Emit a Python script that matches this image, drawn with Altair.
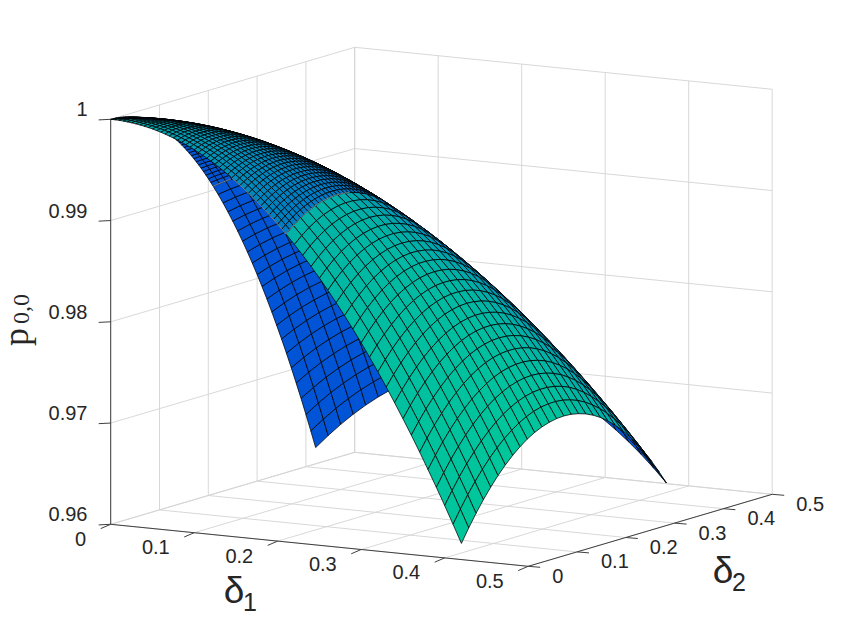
import altair as alt
import numpy as np
import pandas as pd

# ---- values ----
# p along the surface edge (delta2 = 0): fine rows 0 .. 0.21, step .005
edge_fine = [1.0, .999995, .99998, .99995, .99991, .99986, .9998, .99973, .99965, .99956,
             .99946, .99934, .99922, .99908, .99893, .99878, .99861, .99843, .99824, .99804,
             .99782, .9976, .99737, .99712, .99687, .9966, .99632, .99603, .99573, .99542,
             .9951, .99477, .99443, .99407, .99371, .99333, .99295, .99255, .99214, .99172,
             .99129, .99085, .9904]
# coarse rows 0.21 .. 0.42, step .01
edge_coarse = [.9904, .98946, .98848, .98746, .98639, .98528, .98413, .98293, .98169, .98041,
               .97908, .97771, .97629, .97483, .97333, .97179, .9702, .96856, .96689, .96517,
               .9634, .9616]
# p along the far arc (delta1 = 0.42), fraction of the row from 0 to 1, step .02
arc = [.9616, .96235, .96307, .96377, .96443, .96506, .96565, .96622, .96676, .96727,
       .96774, .96819, .9686, .96899, .96934, .96966, .96996, .97022, .97045, .97065,
       .97082, .97095, .97106, .97114, .97118, .9712, .97118, .97114, .97106, .97095,
       .97082, .97065, .97045, .97022, .96996, .96966, .96934, .96899, .9686, .96819,
       .96774, .96727, .96676, .96622, .96565, .96506, .96443, .96377, .96307, .96235, .9616]
z_ticks = [0.96, 0.97, 0.98, 0.99, 1.0]
z_labels = ["0.96", "0.97", "0.98", "0.99", "1"]
d_ticks = [0, 0.1, 0.2, 0.3, 0.4, 0.5]
d_labels = ["0", "0.1", "0.2", "0.3", "0.4", "0.5"]

# ---- the view: box corners measured in the picture ----
O = (110.7, 524.3)
V1 = (835.0, 84.0)
V2 = (488.0, -144.0)
VZ = 10125.0
TICK_FONT = 20
TEXT = "#262626"
GRID = "#d4d4d4"
AXIS = "#404040"
COARSE_COL = 0.015
FINE_COL = 0.0075
arc_t = [i / (len(arc) - 1) for i in range(len(arc))]


def project(d1, d2, p):
    return (O[0] + V1[0] * d1 + V2[0] * d2,
            O[1] + V1[1] * d1 + V2[1] * d2 - (p - 0.96) * VZ)


def depth(d1, d2, p):
    return 19.76 * d1 - 33.8 * d2 + 100.75 * p


def hexcol(v):
    v = max(0.0, min(1.0, v))
    return "#00%02x%02x" % (round(255 * v), round(255 * (1 - v / 2)))


def pval(edge_p, t):
    return 1 - (1 - edge_p) * (1 - float(np.interp(t, arc_t, arc))) / (1 - arc[0])


def patch(rows, r_step, r0, col_step, colour, swap):
    out = []
    for i in range(len(rows) - 1):
        r_lo = r0 + i * r_step
        r_hi = r0 + (i + 1) * r_step
        k = 0
        while k * col_step < r_hi:
            corners = []
            for a, r in ((i, r_lo), (i + 1, r_hi)):
                for c in ((k, k + 1) if a == i else (k + 1, k)):
                    s = min(c * col_step, r)
                    t = s / r if r > 0 else 0.0
                    p = pval(rows[a], t)
                    corners.append((s, r, p) if swap else (r, s, p))
            k += 1
            cd1 = sum(c[0] for c in corners) / 4
            cd2 = sum(c[1] for c in corners) / 4
            cp = sum(c[2] for c in corners) / 4
            rc = (r_lo + r_hi) / 2
            tc = min(1.0, (k - .5) * col_step / rc)
            ring = [list(project(*c)) for c in corners]
            ring = [[x - 8, y - 8] for x, y in ring]
            ring.append(ring[0])
            out.append((depth(cd1, cd2, cp), {
                "type": "Feature",
                "properties": {"c": colour(rc, tc)},
                "geometry": {"type": "Polygon", "coordinates": [ring]},
            }))
    return out


blue = lambda r, t: hexcol(0.33)
upper = lambda r, t: hexcol(0.70 - 1.0 * r - 0.05 * t)
lower = lambda r, t: hexcol(0.70 + 0.08 * (r - 0.21) / 0.21 - 0.36 * t ** 4)

cells = []
cells += patch(edge_fine, .005, 0.0, FINE_COL, blue, True)
cells += patch(edge_coarse, .01, 0.21, COARSE_COL, blue, True)
cells += patch(edge_fine, .005, 0.0, FINE_COL, upper, False)
cells += patch(edge_coarse, .01, 0.21, COARSE_COL, lower, False)
cells.sort(key=lambda c: c[0])
features = [c[1] for c in cells]

# ---- box, grid, ticks ----
seg = []


def add(kind, a, b):
    x, y = project(*a)
    x2, y2 = project(*b)
    seg.append({"kind": kind, "x": x, "y": y, "x2": x2, "y2": y2})


for z in z_ticks:
    add("grid", (0, 0, z), (0, .5, z))
    add("grid", (0, .5, z), (.5, .5, z))
    x, y = project(0, 0, z)
    seg.append({"kind": "axis", "x": x - 12, "y": y + .6, "x2": x, "y2": y})
for d in d_ticks:
    add("grid", (d, 0, .96), (d, .5, .96))
    add("grid", (0, d, .96), (.5, d, .96))
    add("grid", (0, d, .96), (0, d, 1.0))
    add("grid", (d, .5, .96), (d, .5, 1.0))
    x, y = project(d, 0, .96)
    seg.append({"kind": "axis", "x": x - 10, "y": y + 4.3, "x2": x, "y2": y})
    x, y = project(.5, d, .96)
    seg.append({"kind": "axis", "x": x + 12, "y": y + 1, "x2": x, "y2": y})
add("axis", (0, 0, .96), (0, 0, 1.0))
add("axis", (0, 0, .96), (.5, 0, .96))
add("axis", (.5, 0, .96), (.5, .5, .96))
seg = pd.DataFrame(seg)

labels = []
for z, s in zip(z_ticks, z_labels):
    x, y = project(0, 0, z)
    labels.append({"x": 87.5, "y": y - 9, "s": s, "a": "right"})
for d, s in zip(d_ticks, d_labels):
    x, y = project(d, 0, .96)
    labels.append({"x": x - 24.5, "y": y + 15.5, "s": s, "a": "right"})
    x, y = project(.5, d, .96)
    labels.append({"x": x + 24, "y": y + 10.5, "s": s, "a": "left"})
labels = pd.DataFrame(labels)

# seams where the white page shows between patches
seam = []
for i in range(29, 43):
    x, y = project(i * .005, 0, edge_fine[i])
    seam.append({"id": "a", "o": i, "x": x, "y": y})
for j in range(0, 32):
    x, y = project(.21, j / 50 * .21, pval(edge_fine[42], j / 50))
    seam.append({"id": "b", "o": j, "x": x, "y": y})
for j in range(0, 6):
    x, y = project(j / 50 * .21, .21, pval(edge_fine[42], j / 50))
    seam.append({"id": "c", "o": j, "x": x, "y": y})
seam = pd.DataFrame(seam)

X = alt.X("x:Q", scale=alt.Scale(domain=[8, 844], nice=False, zero=False), axis=None)
Y = alt.Y("y:Q", scale=alt.Scale(domain=[628, 8], nice=False, zero=False), axis=None)


def rule(kind, col, w):
    return alt.Chart(seg[seg.kind == kind]).mark_rule(color=col, strokeWidth=w).encode(
        x=X, y=Y, x2="x2:Q", y2="y2:Q")


surface = alt.Chart(alt.Data(values=features, format=alt.DataFormat(type="json"))).mark_geoshape(
    stroke="#000000", strokeWidth=0.75
).encode(fill=alt.Fill("properties.c:N", scale=None)).project(
    type="identity", scale=1, translate=[0, 0])

seams = alt.Chart(seam).mark_line(color="#ffffff", strokeWidth=0.7, opacity=0.65).encode(
    x=X, y=Y, detail="id:N", order="o:Q")


def txt(df, size, font="Liberation Sans", align="center", angle=0, baseline="middle"):
    return alt.Chart(pd.DataFrame(df)).mark_text(
        fontSize=size, font=font, align=align, baseline=baseline, angle=angle, color=TEXT
    ).encode(x=X, y=Y, text="s:N")


ticks_r = alt.Chart(labels[labels.a == "right"]).mark_text(
    fontSize=TICK_FONT, font="Liberation Sans", align="right", baseline="middle", color=TEXT
).encode(x=X, y=Y, text="s:N")
ticks_l = alt.Chart(labels[labels.a == "left"]).mark_text(
    fontSize=TICK_FONT, font="Liberation Sans", align="left", baseline="middle", color=TEXT
).encode(x=X, y=Y, text="s:N")

chart = alt.layer(
    rule("grid", GRID, 0.9),
    rule("axis", AXIS, 1.0),
    surface,
    seams,
    ticks_r,
    ticks_l,
    txt([{"x": 234, "y": 592, "s": "δ"}, {"x": 723, "y": 572, "s": "δ"}], 37),
    txt([{"x": 250, "y": 603, "s": "1"}, {"x": 739, "y": 583, "s": "2"}], 25),
    txt([{"x": 28, "y": 337, "s": "p"}], 36, font="Liberation Serif", angle=270, baseline="alphabetic"),
    txt([{"x": 29, "y": 309, "s": "0,0"}], 24, font="Liberation Serif", angle=270, baseline="alphabetic"),
).properties(width=836, height=620, padding=0, autosize=alt.AutoSizeParams(type="none")
).configure_view(stroke=None)

chart.save("out.html", embed_options={"renderer": "svg", "actions": False})
